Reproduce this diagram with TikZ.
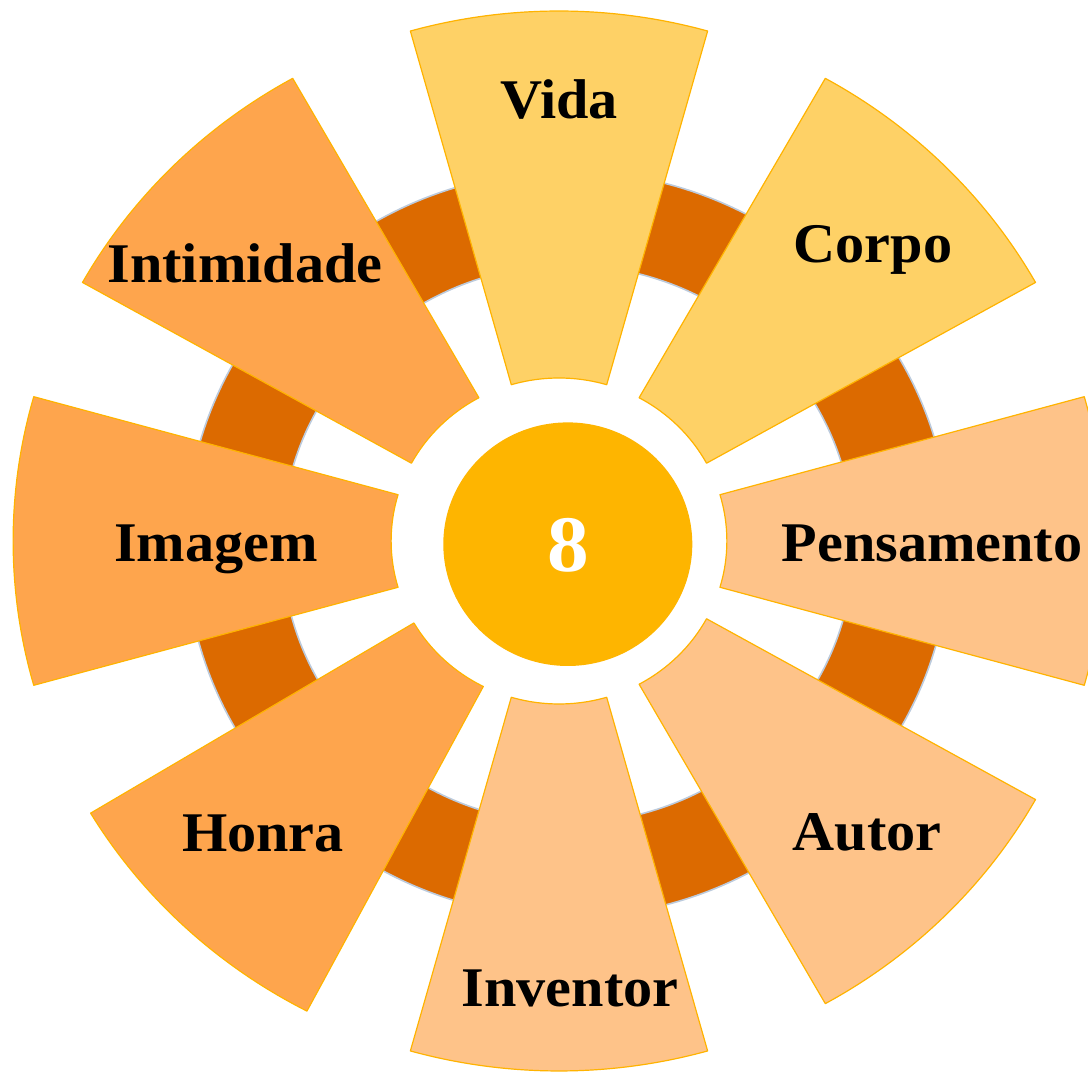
\documentclass[tikz,border=0pt]{standalone}
\usepackage{fontspec}
\setmainfont[FakeStretch=1.04]{Liberation Serif}
\definecolor{ringc}{HTML}{DC6A00}
\definecolor{ringedge}{HTML}{BCCBDD}
\definecolor{secline}{HTML}{FFB300}
\definecolor{yel}{HTML}{FED166}
\definecolor{lor}{HTML}{FEC389}
\definecolor{dor}{HTML}{FEA54D}
\definecolor{centc}{HTML}{FEB500}
\tikzset{
  sectorbox/.style={draw=secline, line width=1.2pt, line join=round},
  lbl/.style={font=\fontsize{56}{60}\selectfont\bfseries, anchor=base, inner sep=0pt, text=black},
  numlbl/.style={font=\fontsize{80}{84}\selectfont\bfseries, anchor=base, inner sep=0pt, text=white}
}
\begin{document}
\begin{tikzpicture}[x=1pt,y=1pt]
\useasboundingbox (0,0) rectangle (1088,1074);
\clip (0,0) rectangle (1088,1074);
% ring
\begin{scope}[shift={(567.8,529.8)}, xscale=1.025]
  \fill[ringc, even odd rule] (0,0) circle[radius=373] (0,0) circle[radius=279];
  \draw[ringedge, line width=1.6pt] (0,0) circle[radius=373];
  \draw[ringedge, line width=1.6pt] (0,0) circle[radius=279];
\end{scope}
% sectors
\begin{scope}[shift={(559,533)}, xscale=1.03]
  \foreach \a/\col in {90/yel, 45/yel, 0/lor, -45/lor, -90/lor, -133.3/dor, 180/dor, 135/dor}{
    \pgfmathsetmacro\ao{\a-15.8}
    \pgfmathsetmacro\at{\a+15.8}
    \pgfmathsetmacro\bo{\a-16.5}
    \pgfmathsetmacro\bt{\a+16.5}
    \filldraw[sectorbox, fill=\col] (\ao:530) arc[start angle=\ao, end angle=\at, radius=530]
      -- (\bt:163) arc[start angle=\bt, end angle=\bo, radius=163] -- cycle;
  }
\end{scope}
% centre
\fill[centc] (567.8,529.8) ellipse[x radius=124.5, y radius=121.8];
\node[numlbl] (num) at (567.8,502) {8};
% labels
\node[lbl] (vida) at (559,955) {Vida};
\node[lbl] (corpo) at (873,811) {Corpo};
\node[lbl] (pens) at (932,512) {Pensamento};
\node[lbl] (autor) at (867,223) {Autor};
\node[lbl] (inv) at (570,67) {Inventor};
\node[lbl] (honra) at (263,222) {Honra};
\node[lbl] (imagem) at (216,512) {Imagem};
\node[lbl] (intim) at (245,791) {Intimidade};
\end{tikzpicture}
\end{document}
